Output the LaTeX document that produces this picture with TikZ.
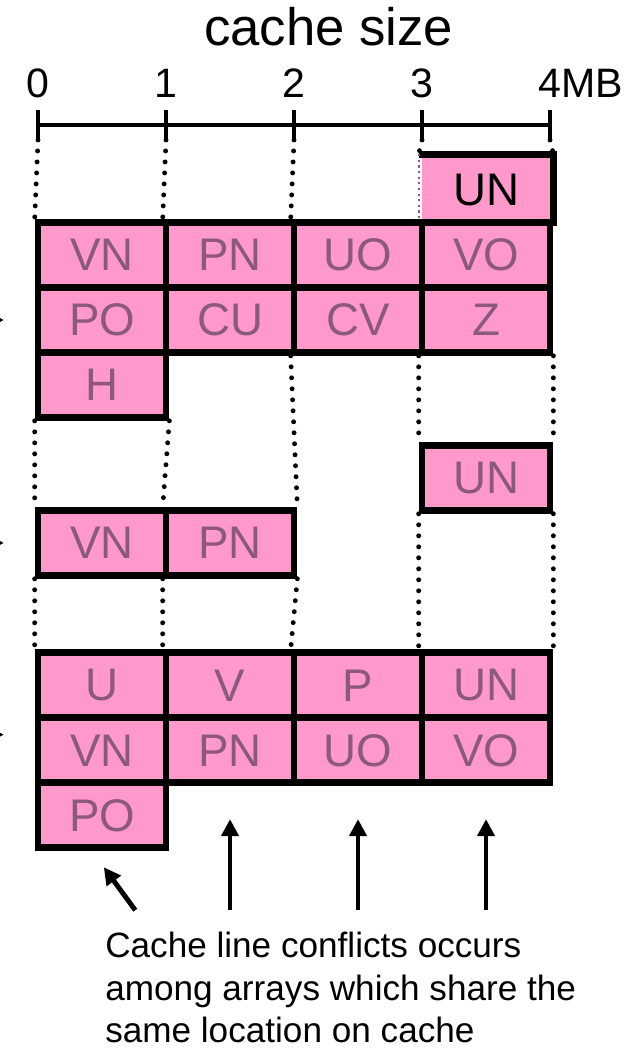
\documentclass[tikz,border=0pt]{standalone}
\usepackage{fontspec}
\setmainfont{Liberation Sans}
\usetikzlibrary{arrows.meta}
\definecolor{cellpink}{RGB}{255,153,204}
\definecolor{cellgray}{RGB}{140,88,126}

\begin{document}
\begin{tikzpicture}[x=1.28cm,y=0.65cm,
  cell/.style={draw,line width=1.9pt,fill=cellpink,minimum width=1.28cm,minimum height=0.65cm,
    inner sep=0pt,text=cellgray,font=\fontsize{13}{15}\selectfont},
  guide/.style={line width=1.4pt,line cap=round,dash pattern=on 0pt off 3.13pt},
  into/.style={-{Triangle[length=1.7mm,width=1.7mm]},line width=1.4pt},
  side/.style={-{Triangle[length=0.9mm,width=0.9mm]},line width=0.6pt}]
\useasboundingbox (-0.297,1.923) rectangle (4.664,-14.2);

% axis
\node (title) at (2.27,1.23) [anchor=base,font=\fontsize{15}{18}\selectfont] {cache size};
\draw[line width=1.4pt] (0,0) -- (4,0);
\foreach \i in {0,...,4} {
  \coordinate (t\i) at (\i,-0.23);
  \draw[line width=1.4pt] (\i,0.23) -- (t\i);
}
\node (l0) at (0,0.43) [anchor=base,font=\fontsize{11.7}{14}\selectfont] {0};
\node (l1) at (1,0.43) [anchor=base,font=\fontsize{11.7}{14}\selectfont] {1};
\node (l2) at (2,0.43) [anchor=base,font=\fontsize{11.7}{14}\selectfont] {2};
\node (l3) at (3,0.43) [anchor=base,font=\fontsize{11.7}{14}\selectfont] {3};
\node (l4) at (3.906,0.43) [anchor=base west,inner sep=0pt,font=\fontsize{11.7}{14}\selectfont] {4MB};

% first layout
\node[cell,draw=none,text=black] (aun) at (3.5,-1) {UN};
\draw[line width=1.9pt] (aun.north west) -- (aun.north east) -- (aun.south east);
\draw[cellgray,densely dotted,line width=0.6pt] (aun.north west) -- (aun.south west);
\node[cell] (a11) at (0.5,-2) {VN};
\node[cell] (a12) at (1.5,-2) {PN};
\node[cell] (a13) at (2.5,-2) {UO};
\node[cell] (a14) at (3.5,-2) {VO};
\node[cell] (a21) at (0.5,-3) {PO};
\node[cell] (a22) at (1.5,-3) {CU};
\node[cell] (a23) at (2.5,-3) {CV};
\node[cell] (a24) at (3.5,-3) {Z};
\node[cell] (a31) at (0.5,-4) {H};

% second layout
\node[cell] (bun) at (3.5,-5.43) {UN};
\node[cell] (b11) at (0.5,-6.43) {VN};
\node[cell] (b12) at (1.5,-6.43) {PN};

% third layout
\node[cell] (c11) at (0.5,-8.62) {U};
\node[cell] (c12) at (1.5,-8.62) {V};
\node[cell] (c13) at (2.5,-8.62) {P};
\node[cell] (c14) at (3.5,-8.62) {UN};
\node[cell] (c21) at (0.5,-9.62) {VN};
\node[cell] (c22) at (1.5,-9.62) {PN};
\node[cell] (c23) at (2.5,-9.62) {UO};
\node[cell] (c24) at (3.5,-9.62) {VO};
\node[cell] (c31) at (0.5,-10.62) {PO};

% dotted guides
\draw[guide] (t0) -- (a11.north west);
\draw[guide] (t1) -- (a12.north west);
\draw[guide] (t2) -- (a13.north west);
\draw[guide] (t3) -- (aun.north west);
\draw[guide] (t4) -- (aun.north east);
\draw[guide] (a31.south west) -- (b11.north west);
\draw[guide] (a31.south east) -- (b12.north west);
\draw[guide] (a23.south west) -- (b12.north east);
\draw[guide] (a24.south west) -- (bun.north west);
\draw[guide] (a24.south east) -- (bun.north east);
\draw[guide] (b11.south west) -- (c11.north west);
\draw[guide] (b12.south west) -- (c12.north west);
\draw[guide] (b12.south east) -- (c13.north west);
\draw[guide] (bun.south west) -- (c14.north west);
\draw[guide] (bun.south east) -- (c14.north east);

% arrows from the left
\coordinate (in1) at (-0.45,-3);
\coordinate (in2) at (-0.45,-6.43);
\coordinate (in3) at (-0.45,-9.38);
\draw[side,shorten >=0.31cm] (in1) -- (in1 -| a21.west);
\draw[side,shorten >=0.31cm] (in2) -- (in2 -| b11.west);
\draw[side,shorten >=0.31cm] (in3) -- (in3 -| c21.west);

% arrows from the note
\coordinate (up0) at (0.76,-12.08);
\coordinate (up1) at (1.5,-12.08);
\coordinate (up2) at (2.5,-12.08);
\coordinate (up3) at (3.5,-12.08);
\draw[into,shorten >=0.2cm] (up0) -- ([xshift=-0.1cm]c31.south);
\draw[into,shorten >=0.33cm] (up1) -- (c22.south);
\draw[into,shorten >=0.33cm] (up2) -- (c23.south);
\draw[into,shorten >=0.33cm] (up3) -- (c24.south);

\node (note) at (0.52,-12.4) [anchor=north west,align=left,inner sep=0pt,
  font=\fontsize{10}{12.2}\selectfont] {Cache line conflicts occurs\\among arrays which share the\\same location on cache};
\end{tikzpicture}
\end{document}
